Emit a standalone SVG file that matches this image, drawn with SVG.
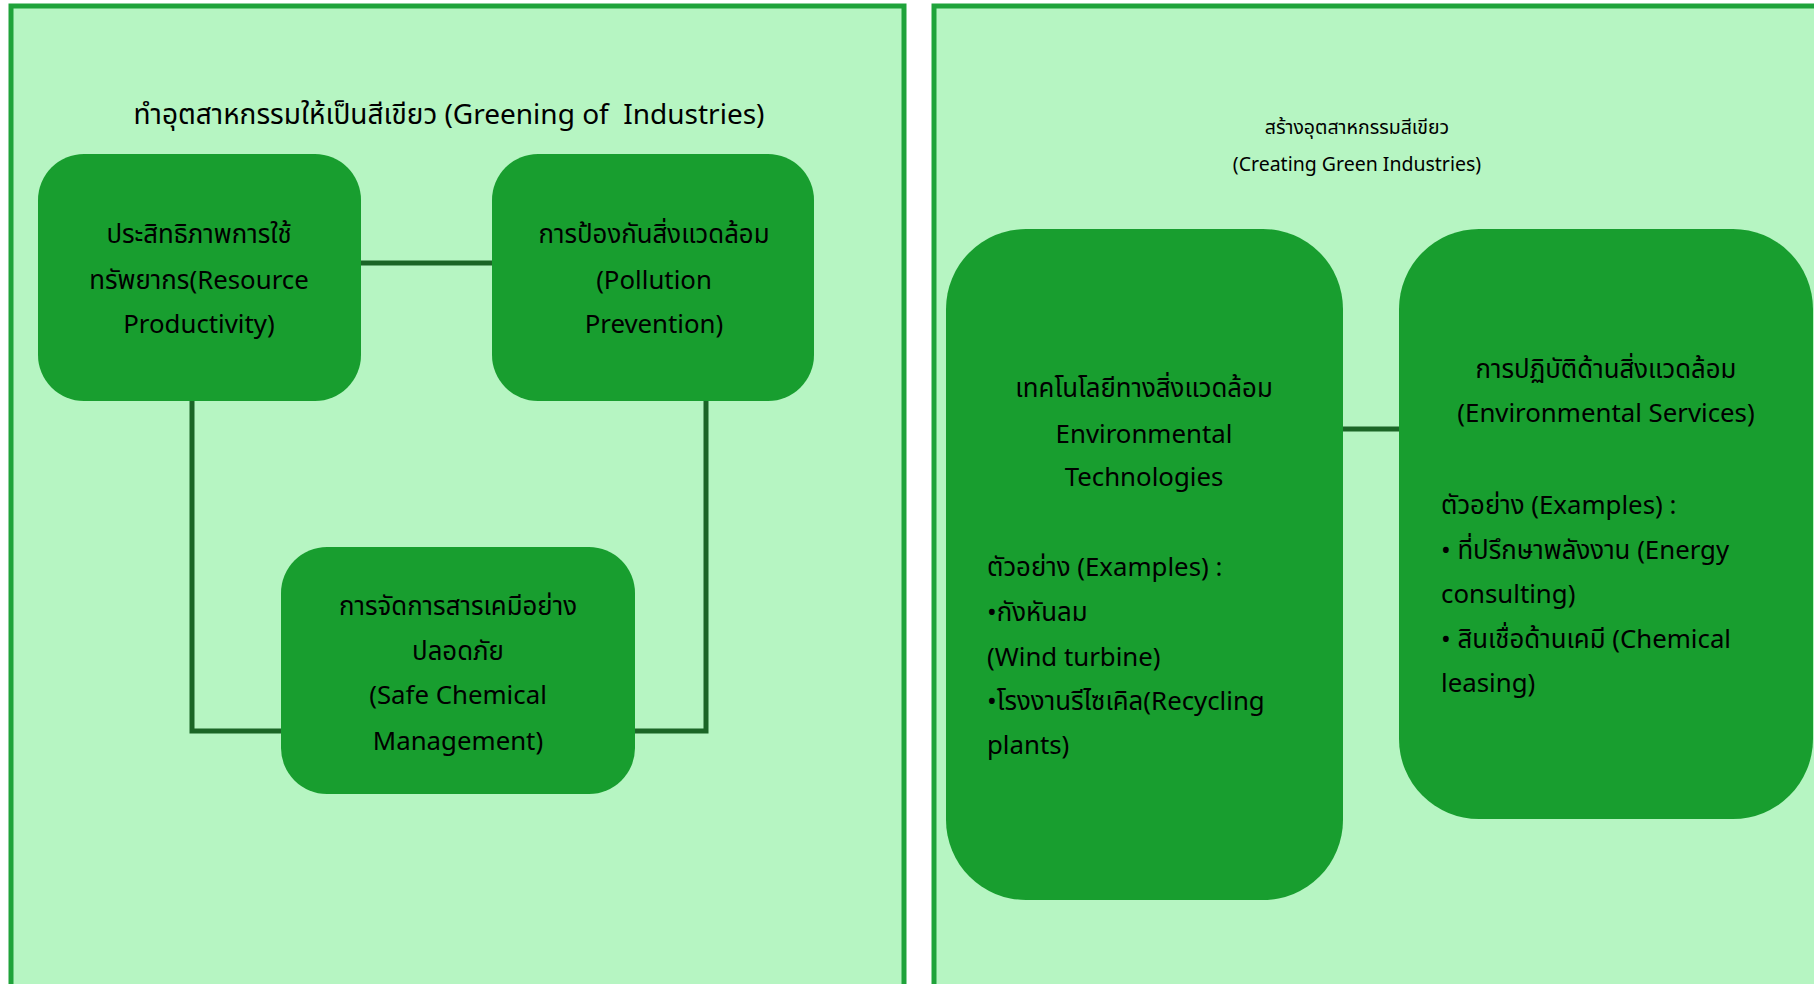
<svg xmlns="http://www.w3.org/2000/svg" width="1814" height="984" viewBox="0 0 1814 984">
<style>
.panel{fill:#b6f5c2;stroke:#1fa33a;stroke-width:5}
.node{fill:#189e2f}
.conn{fill:none;stroke:#1b6526;stroke-width:5}
text{font-family:"Noto Sans Thai","Noto Sans","DejaVu Sans",sans-serif;fill:#000;dominant-baseline:central}
.c{text-anchor:middle}
.t1{font-size:28px}
.n{font-size:25.8px}
.t2{font-size:19.5px}
</style>
<rect x="0" y="0" width="1814" height="984" fill="#ffffff"/>
<g id="panel-left"><rect class="panel" x="11" y="6" width="893" height="990"/></g>
<g id="panel-right"><rect class="panel" x="934" y="6" width="900" height="990"/></g>
<g id="title-left"><text class="c t1" x="449" y="115" xml:space="preserve">ทำอุตสาหกรรมให้เป็นสีเขียว (Greening of  Industries)</text></g>
<g id="title-right"><text class="c t2" x="1357" y="128">สร้างอุตสาหกรรมสีเขียว</text><text class="c t2" x="1357" y="165">(Creating Green Industries)</text></g>
<g id="connectors">
<line class="conn" x1="361" y1="263" x2="492" y2="263"/>
<polyline class="conn" points="192,401 192,731 281,731"/>
<polyline class="conn" points="706,401 706,731 635,731"/>
<line class="conn" x1="1343" y1="429" x2="1399" y2="429"/>
</g>
<g id="node-resource">
<rect class="node" x="38" y="154" width="323" height="247" rx="46" ry="46"/>
<text class="c n" x="199" y="235">ประสิทธิภาพการใช้</text>
<text class="c n" x="199" y="281">ทรัพยากร(Resource</text>
<text class="c n" x="199" y="325">Productivity)</text>
</g>
<g id="node-pollution">
<rect class="node" x="492" y="154" width="322" height="247" rx="46" ry="46"/>
<text class="c n" x="654" y="235">การป้องกันสิ่งแวดล้อม</text>
<text class="c n" x="654" y="281">(Pollution</text>
<text class="c n" x="654" y="325">Prevention)</text>
</g>
<g id="node-chemical">
<rect class="node" x="281" y="547" width="354" height="247" rx="46" ry="46"/>
<text class="c n" x="458" y="607">การจัดการสารเคมีอย่าง</text>
<text class="c n" x="458" y="652">ปลอดภัย</text>
<text class="c n" x="458" y="696">(Safe Chemical</text>
<text class="c n" x="458" y="742">Management)</text>
</g>
<g id="node-envtech">
<rect class="node" x="946" y="229" width="397" height="671" rx="80" ry="80"/>
<text class="c n" x="1144" y="389">เทคโนโลยีทางสิ่งแวดล้อม</text>
<text class="c n" x="1144" y="435">Environmental</text>
<text class="c n" x="1144" y="478">Technologies</text>
<text class="n" x="987" y="568">ตัวอย่าง (Examples) :</text>
<text class="n" x="987" y="613">•กังหันลม</text>
<text class="n" x="987" y="658">(Wind turbine)</text>
<text class="n" x="987" y="702">•โรงงานรีไซเคิล(Recycling</text>
<text class="n" x="987" y="746">plants)</text>
</g>
<g id="node-envservices">
<rect class="node" x="1399" y="229" width="414" height="590" rx="80" ry="80"/>
<text class="c n" x="1606" y="370">การปฏิบัติด้านสิ่งแวดล้อม</text>
<text class="c n" x="1606" y="414">(Environmental Services)</text>
<text class="n" x="1441" y="506">ตัวอย่าง (Examples) :</text>
<text class="n" x="1441" y="551">• ที่ปรึกษาพลังงาน (Energy</text>
<text class="n" x="1441" y="595">consulting)</text>
<text class="n" x="1441" y="640">• สินเชื่อด้านเคมี (Chemical</text>
<text class="n" x="1441" y="684">leasing)</text>
</g>
</svg>
